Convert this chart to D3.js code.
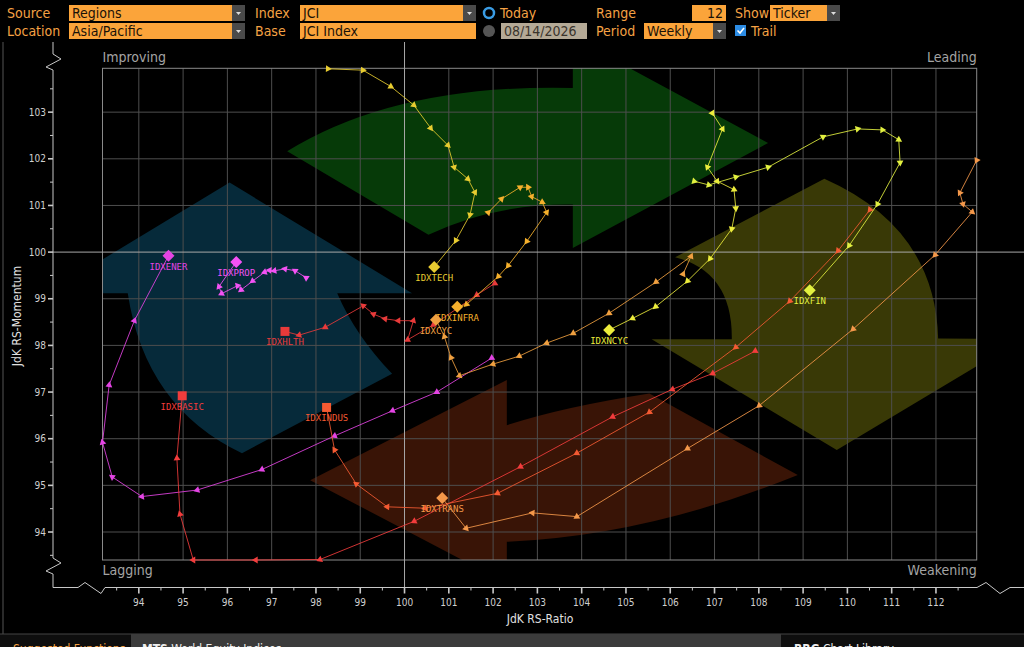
<!DOCTYPE html>
<html>
<head>
<meta charset="utf-8">
<script src="https://cdn.jsdelivr.net/npm/d3@7"></script>
<style>
  body { margin: 0; background: #000; overflow: hidden; }
  text { font-family: "DejaVu Sans Condensed", "DejaVu Sans", sans-serif; }
</style>
</head>
<body>
<svg id="chart" width="1024" height="647"></svg>
<script>
"use strict";

// ---- data (JdK RS-Ratio / RS-Momentum, 12 weekly points, oldest -> newest) ----
var tickers = ["IDXENER", "IDXPROP", "IDXBASIC", "IDXHLTH", "IDXINDUS", "IDXTECH",
               "IDXINFRA", "IDXCYC", "IDXNCYC", "IDXFIN", "IDXTRANS"];

var enerRatio    = [101.97, 100.73, 99.73, 98.42, 96.78, 95.32, 94.07, 93.40, 93.18, 93.33, 93.90, 94.67];
var enerMomentum = [97.73, 97.00, 96.60, 96.06, 95.34, 94.90, 94.76, 95.18, 95.92, 97.15, 98.53, 99.92];

var propRatio    = [97.78, 97.53, 97.30, 97.06, 96.95, 96.84, 96.57, 96.31, 96.23, 95.87, 95.81, 96.20];
var propMomentum = [99.45, 99.60, 99.64, 99.60, 99.61, 99.57, 99.38, 99.19, 99.28, 99.11, 99.26, 99.79];

var basicRatio    = [107.92, 106.96, 106.05, 104.70, 102.62, 100.22, 98.09, 96.64, 95.23, 94.93, 94.86, 94.98];
var basicMomentum = [97.88, 97.40, 97.06, 96.47, 95.40, 94.23, 93.41, 93.40, 93.40, 94.38, 95.58, 96.92];

var hlthRatio    = [102.04, 101.63, 100.65, 100.07, 100.20, 99.86, 99.56, 99.30, 99.07, 98.21, 97.62, 97.30];
var hlthMomentum = [99.33, 99.08, 98.44, 98.12, 98.53, 98.53, 98.57, 98.67, 98.85, 98.39, 98.22, 98.30];

var indusRatio    = [110.51, 109.79, 108.70, 107.48, 105.53, 103.89, 102.10, 100.46, 99.61, 98.91, 98.42, 98.24];
var indusMomentum = [100.91, 100.03, 98.95, 97.96, 96.57, 95.69, 94.83, 94.51, 94.54, 95.03, 95.76, 96.67];

var techRatio    = [98.27, 99.06, 99.69, 100.21, 100.59, 100.98, 101.12, 101.43, 101.59, 101.48, 101.16, 100.67];
var techMomentum = [103.93, 103.90, 103.55, 103.15, 102.66, 102.29, 101.82, 101.57, 101.28, 100.80, 100.25, 99.68];

var infraRatio    = [101.89, 102.19, 102.61, 102.79, 102.87, 103.11, 103.21, 102.76, 102.34, 102.12, 101.40, 101.19];
var infraMomentum = [100.85, 101.14, 101.39, 101.39, 101.19, 101.07, 100.85, 100.23, 99.71, 99.48, 98.88, 98.83];

var cycRatio    = [106.29, 106.47, 105.68, 104.62, 103.81, 103.21, 102.59, 102.00, 101.24, 101.05, 100.90, 100.71];
var cycMomentum = [99.53, 99.91, 99.36, 98.69, 98.26, 98.05, 97.77, 97.60, 97.35, 97.74, 98.19, 98.55];

var ncycRatio    = [106.95, 107.18, 106.84, 107.06, 107.44, 107.48, 107.39, 106.90, 106.39, 105.67, 105.15, 104.62];
var ncycMomentum = [102.98, 102.64, 101.82, 101.52, 101.34, 100.94, 100.50, 99.86, 99.38, 98.83, 98.58, 98.33];

var finRatio    = [106.54, 106.87, 107.48, 108.21, 109.45, 110.23, 110.79, 111.16, 111.19, 110.68, 110.04, 109.15];
var finMomentum = [101.52, 101.44, 101.61, 101.82, 102.47, 102.64, 102.62, 102.41, 101.92, 101.03, 100.14, 99.18];

var transRatio    = [112.92, 112.54, 112.61, 112.82, 111.98, 110.13, 108.01, 106.39, 103.89, 102.89, 101.39, 100.85];
var transMomentum = [101.97, 101.27, 101.03, 100.86, 99.94, 98.35, 96.71, 95.79, 94.33, 94.41, 94.08, 94.73];

var ratioTicks = d3.range(94, 113);
var momentumTicks = d3.range(94, 104);

// ---- styling ----
var seriesColors = ["#e444e4", "#f452f4", "#f23c3c", "#e83a3a", "#f45a32", "#e8cc30",
                    "#f5b02c", "#f0a040", "#ecec3c", "#e2f040", "#f4984a"];
var headShapes = ["diamond", "diamond", "square", "square", "square", "diamond",
                  "diamond", "diamond", "diamond", "diamond", "diamond"];

var series = [
  [enerRatio, enerMomentum], [propRatio, propMomentum], [basicRatio, basicMomentum],
  [hlthRatio, hlthMomentum], [indusRatio, indusMomentum], [techRatio, techMomentum],
  [infraRatio, infraMomentum], [cycRatio, cycMomentum], [ncycRatio, ncycMomentum],
  [finRatio, finMomentum], [transRatio, transMomentum]
].map(function (s, i) {
  return {
    name: tickers[i],
    color: seriesColors[i],
    shape: headShapes[i],
    points: s[0].map(function (r, j) { return { r: r, m: s[1][j] }; })
  };
});

// rotation backdrop arrows, outlined in chart units
var backdropArrows = [
  { fill: "#063a08", path: [["M", 97.35, 102.16], ["Q", 99.82, 103.61, 103.80, 103.52], ["L", 103.80, 104.6],
      ["L", 108.21, 102.34], ["L", 103.80, 100.09], ["L", 103.80, 101.02], ["Q", 102.02, 101.04, 100.54, 100.37]] },
  { fill: "#062a3a", path: [["M", 96.05, 101.49], ["L", 100.17, 99.12], ["L", 98.48, 99.12],
      ["Q", 98.88, 98.23, 99.72, 97.39], ["L", 96.33, 95.69], ["Q", 94.14, 96.68, 93.75, 99.12], ["L", 91.92, 99.12]] },
  { fill: "#393906", path: [["M", 109.48, 101.57], ["Q", 111.98, 100.52, 112.05, 98.15], ["L", 113.93, 98.13],
      ["L", 109.76, 95.76], ["L", 105.58, 98.13], ["L", 107.39, 98.13], ["Q", 107.41, 99.58, 106.11, 99.89]] },
  { fill: "#391406", path: [["M", 97.87, 95.11], ["L", 102.31, 97.26], ["L", 102.31, 96.29],
      ["Q", 103.56, 96.68, 105.53, 96.97], ["L", 108.88, 95.22], ["Q", 105.49, 93.92, 102.31, 93.79], ["L", 102.31, 92.9]] }
];

var svg = d3.select("#chart");
var orange = "#f5a244";
var boxFill = "#fba43a";

// ---- toolbar ----
function label(t, x0, y0) {
  svg.append("text").attr("x", x0).attr("y", y0).attr("fill", orange)
    .style("font-size", "14px").text(t);
}
function box(t, x0, y0, w, drop, anchorEnd) {
  svg.append("rect").attr("x", x0).attr("y", y0).attr("width", w).attr("height", 16).attr("fill", boxFill);
  svg.append("text").attr("x", anchorEnd ? x0 + w - 3 : x0 + 3).attr("y", y0 + 13)
    .attr("text-anchor", anchorEnd ? "end" : "start")
    .attr("fill", "#1a1208").style("font-size", "14px").text(t);
  if (drop) {
    svg.append("rect").attr("x", x0 + w).attr("y", y0).attr("width", 13).attr("height", 16).attr("fill", "#4a4a4a");
    svg.append("path").attr("d", "M" + (x0 + w + 4) + "," + (y0 + 7) + "h5l-2.5,3z").attr("fill", "#ddd");
  }
}
label("Source", 7, 18);   box("Regions", 69, 5, 163, true);
label("Location", 7, 36); box("Asia/Pacific", 69, 23, 163, true);
label("Index", 255, 18);  box("JCI", 300, 5, 163, true);
label("Base", 255, 36);   box("JCI Index", 300, 23, 176, false);
svg.append("circle").attr("cx", 489).attr("cy", 13).attr("r", 5).attr("fill", "#000")
  .attr("stroke", "#3a9ce4").attr("stroke-width", 2.5);
label("Today", 500, 18);
svg.append("circle").attr("cx", 489).attr("cy", 31).attr("r", 6).attr("fill", "#555");
svg.append("rect").attr("x", 501).attr("y", 23).attr("width", 86).attr("height", 16).attr("fill", "#b4a996");
svg.append("text").attr("x", 504).attr("y", 36).attr("fill", "#3a342c").style("font-size", "14px").text("08/14/2026");
label("Range", 596, 18);  box("12", 692, 5, 34, false, true);
label("Period", 596, 36); box("Weekly", 644, 23, 69, true);
label("Show", 735, 18);   box("Ticker", 770, 5, 57, true);
svg.append("rect").attr("x", 735).attr("y", 25).attr("width", 11).attr("height", 11).attr("fill", "#2c8ce4");
svg.append("path").attr("d", "M737.5,30.5l2.5,2.5l4,-5").attr("fill", "none").attr("stroke", "#fff").attr("stroke-width", 1.6);
label("Trail", 751, 36);

// ---- chart frame ----
var x = d3.scaleLinear().domain([93.18, 112.92]).range([102.5, 976.7]);
var y = d3.scaleLinear().domain([93.4, 103.94]).range([560, 68.3]);
var plotL = x.range()[0], plotR = x.range()[1], plotT = y.range()[1], plotB = y.range()[0];
var axisX = 53, axisY = 587.5;

svg.append("line").attr("x1", 3).attr("x2", 3).attr("y1", 42).attr("y2", 634).attr("stroke", "#555");

svg.append("clipPath").attr("id", "plotClip").append("rect")
  .attr("x", plotL).attr("y", plotT).attr("width", plotR - plotL).attr("height", plotB - plotT);

var arrowLayer = svg.append("g").attr("clip-path", "url(#plotClip)");
backdropArrows.forEach(function (a) {
  var p = d3.path();
  a.path.forEach(function (c) {
    if (c[0] === "M") p.moveTo(x(c[1]), y(c[2]));
    else if (c[0] === "L") p.lineTo(x(c[1]), y(c[2]));
    else p.quadraticCurveTo(x(c[1]), y(c[2]), x(c[3]), y(c[4]));
  });
  p.closePath();
  arrowLayer.append("path").attr("d", p.toString()).attr("fill", a.fill);
});

// grid
var grid = svg.append("g").attr("stroke", "#4e4e4e").attr("stroke-width", 1);
grid.selectAll(".gx").data(ratioTicks.filter(function (d) { return d !== 100; })).enter().append("line")
  .attr("x1", function (d) { return x(d); }).attr("x2", function (d) { return x(d); })
  .attr("y1", plotT).attr("y2", plotB);
grid.selectAll(".gy").data(momentumTicks.filter(function (d) { return d !== 100; })).enter().append("line")
  .attr("y1", function (d) { return y(d); }).attr("y2", function (d) { return y(d); })
  .attr("x1", plotL).attr("x2", plotR);

svg.append("rect").attr("x", plotL).attr("y", plotT).attr("width", plotR - plotL).attr("height", plotB - plotT)
  .attr("fill", "none").attr("stroke", "#8a8a8a");

// center lines at 100
svg.append("line").attr("x1", axisX).attr("x2", 1024).attr("y1", y(100)).attr("y2", y(100)).attr("stroke", "#a8a8a8");
svg.append("line").attr("x1", x(100)).attr("x2", x(100)).attr("y1", 42).attr("y2", axisY).attr("stroke", "#a8a8a8");

// axes lines with break marks
var axisColor = "#c8c8c8";
svg.append("path").attr("fill", "none").attr("stroke", axisColor)
  .attr("d", "M" + axisX + ",42V54l8,5l-15,8l7,3V558l8,5l-15,8l7,3V" + axisY +
             "H78l7,-5l16,11l4,-6H977l9,-5l14,11l10,-6H1024");

var minorR = d3.range(93.5, 113, 1), minorM = d3.range(93.5, 104, 1);
var ticks = svg.append("g").attr("stroke", axisColor);
ticks.selectAll(".mx").data(minorR).enter().append("line")
  .attr("x1", function (d) { return x(d); }).attr("x2", function (d) { return x(d); })
  .attr("y1", axisY).attr("y2", axisY + 3);
ticks.selectAll(".Mx").data(ratioTicks).enter().append("line").attr("stroke-width", 1.6)
  .attr("x1", function (d) { return x(d); }).attr("x2", function (d) { return x(d); })
  .attr("y1", axisY).attr("y2", axisY + 6);
ticks.selectAll(".my").data(minorM).enter().append("line")
  .attr("y1", function (d) { return y(d); }).attr("y2", function (d) { return y(d); })
  .attr("x1", axisX - 3).attr("x2", axisX);
ticks.selectAll(".My").data(momentumTicks).enter().append("line").attr("stroke-width", 1.6)
  .attr("y1", function (d) { return y(d); }).attr("y2", function (d) { return y(d); })
  .attr("x1", axisX - 5).attr("x2", axisX);

svg.selectAll(".tlx").data(ratioTicks).enter().append("text")
  .attr("x", function (d) { return x(d); }).attr("y", 606).attr("text-anchor", "middle")
  .attr("fill", "#cfcfcf").style("font-size", "10px").text(function (d) { return d; });
svg.selectAll(".tly").data(momentumTicks).enter().append("text")
  .attr("x", axisX - 7).attr("y", function (d) { return y(d) + 3.5; }).attr("text-anchor", "end")
  .attr("fill", "#cfcfcf").style("font-size", "10px").text(function (d) { return d; });

svg.append("text").attr("x", 540).attr("y", 623).attr("text-anchor", "middle")
  .attr("fill", "#e0e0e0").style("font-size", "12px").text("JdK RS-Ratio");
svg.append("text").attr("transform", "translate(21,316) rotate(-90)").attr("text-anchor", "middle")
  .attr("fill", "#e0e0e0").style("font-size", "12px").text("JdK RS-Momentum");

// quadrant names
var quadColor = "#a4a4a4";
[["Improving", plotL, 62, "start"], ["Leading", plotR, 62, "end"],
 ["Lagging", plotL, 575, "start"], ["Weakening", plotR, 575, "end"]].forEach(function (q) {
  svg.append("text").attr("x", q[1]).attr("y", q[2]).attr("text-anchor", q[3])
    .attr("fill", quadColor).style("font-size", "14px").text(q[0]);
});

// ---- trails ----
var line = d3.line().x(function (d) { return x(d.r); }).y(function (d) { return y(d.m); });
var tri = d3.symbol().type(d3.symbolTriangle).size(20);

var trails = svg.append("g");
series.forEach(function (s) {
  var g = trails.append("g");
  g.append("path").datum(s.points).attr("d", line).attr("fill", "none")
    .attr("stroke", s.color).attr("stroke-width", 1).attr("stroke-opacity", 0.85);

  var body = s.points.slice(0, -1);
  g.selectAll(".mk").data(body).enter().append("path")
    .attr("d", tri)
    .attr("fill", s.color)
    .attr("transform", function (d, i) {
      var a = i > 0 ? s.points[i - 1] : d, b = i > 0 ? d : s.points[1];
      var ang = Math.atan2(y(b.m) - y(a.m), x(b.r) - x(a.r)) * 180 / Math.PI + 90;
      return "translate(" + x(d.r) + "," + y(d.m) + ") rotate(" + ang + ")";
    });
});
series.forEach(function (s) {
  var h = s.points[s.points.length - 1];
  var hx = x(h.r), hy = y(h.m);
  if (s.shape === "square") {
    trails.append("rect").attr("x", hx - 4.5).attr("y", hy - 4.5).attr("width", 9).attr("height", 9).attr("fill", s.color);
  } else {
    trails.append("path").attr("d", "M0,-6L6,0L0,6L-6,0Z").attr("transform", "translate(" + hx + "," + hy + ")")
      .attr("fill", s.color);
  }
  trails.append("text").attr("x", hx).attr("y", hy + 14).attr("text-anchor", "middle")
    .attr("fill", s.color).style("font-family", "'DejaVu Sans Mono', monospace").style("font-size", "9px")
    .text(s.name);
});

// ---- bottom tab strip (partly out of view) ----
svg.append("rect").attr("x", 0).attr("y", 634).attr("width", 1024).attr("height", 13).attr("fill", "#0e0e0e");
svg.append("line").attr("x1", 0).attr("x2", 1024).attr("y1", 634).attr("y2", 634).attr("stroke", "#444");
svg.append("rect").attr("x", 131).attr("y", 634).attr("width", 650).attr("height", 13).attr("fill", "#3b3b3b");
svg.append("text").attr("x", 13).attr("y", 653).attr("fill", orange).style("font-size", "12px").text("Suggested Functions");
svg.append("text").attr("x", 142).attr("y", 653).attr("fill", "#eee").style("font-size", "12px")
  .html("<tspan font-weight='bold'>MTS</tspan> World Equity Indices");
svg.append("text").attr("x", 794).attr("y", 653).attr("fill", "#eee").style("font-size", "12px")
  .html("<tspan font-weight='bold'>RRG</tspan> Chart Library");
</script>
</body>
</html>
